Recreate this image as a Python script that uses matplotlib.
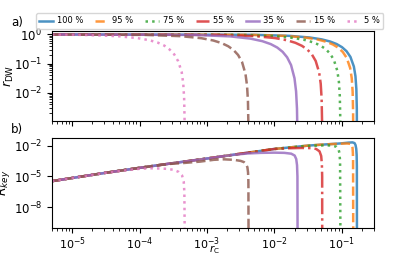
import numpy as np
import matplotlib
matplotlib.use('Agg')
import matplotlib.pyplot as plt

## ---- legend labels (detection efficiency) ----
labels = ['100 %', '95 %', '75 %', '55 %', '35 %', '15 %', '5 %']

## ---- panel a): r_DW against r_C, one pair of lists per curve ----
rc_a_100 = [5e-6, 5.04e-3, 0.0168, 0.0336, 0.0504, 0.0672, 0.084, 0.1008, 0.1176, 0.1344, 0.1512, 0.1596, 0.1646, 0.1672, 0.1678]
rdw_100 = [1.0, 0.967, 0.891, 0.782, 0.675, 0.570, 0.467, 0.365, 0.266, 0.170, 0.0794, 0.0372, 0.0135, 0.0029, 0.0005]

rc_a_95 = [5e-6, 4.44e-3, 0.0148, 0.0296, 0.0444, 0.0592, 0.074, 0.0888, 0.1036, 0.1184, 0.1332, 0.1406, 0.1450, 0.1473, 0.1479]
rdw_95 = [1.0, 0.966, 0.886, 0.774, 0.664, 0.556, 0.451, 0.349, 0.250, 0.157, 0.0708, 0.0319, 0.0111, 0.00226, 0.00035]

rc_a_75 = [5e-6, 2.87e-3, 9.55e-3, 0.0191, 0.0287, 0.0382, 0.0478, 0.0573, 0.0669, 0.0764, 0.0860, 0.0907, 0.0936, 0.0950, 0.0954]
rdw_75 = [1.0, 0.963, 0.877, 0.757, 0.640, 0.528, 0.420, 0.318, 0.222, 0.134, 0.0562, 0.0236, 0.00752, 0.00133, 0.000178]

rc_a_55 = [5e-6, 1.54e-3, 5.13e-3, 0.01026, 0.01539, 0.02052, 0.02565, 0.03078, 0.03591, 0.04104, 0.04617, 0.04874, 0.05027, 0.05104, 0.05125]
rdw_55 = [1.0, 0.961, 0.872, 0.748, 0.629, 0.515, 0.406, 0.304, 0.209, 0.123, 0.0501, 0.0204, 0.0062, 0.00102, 0.000126]

rc_a_35 = [5e-6, 6.63e-4, 2.21e-3, 4.42e-3, 6.63e-3, 8.84e-3, 0.01105, 0.01326, 0.01547, 0.01768, 0.01989, 0.0210, 0.02166, 0.02199, 0.02208]
rdw_35 = [1.0, 0.955, 0.854, 0.716, 0.586, 0.465, 0.354, 0.253, 0.164, 0.0894, 0.0316, 0.0112, 0.00283, 0.00035, 0.00003]

rc_a_15 = [5e-6, 1.24e-4, 4.14e-4, 8.28e-4, 1.242e-3, 1.656e-3, 2.07e-3, 2.484e-3, 2.898e-3, 3.312e-3, 3.726e-3, 3.933e-3, 4.057e-3, 4.119e-3, 4.136e-3]
rdw_15 = [0.995, 0.960, 0.867, 0.740, 0.618, 0.502, 0.392, 0.290, 0.197, 0.114, 0.0447, 0.0175, 0.0051, 0.00078, 0.0001]

rc_a_5 = [5e-6, 1.40e-5, 4.68e-5, 9.36e-5, 1.404e-4, 1.872e-4, 2.34e-4, 2.808e-4, 3.276e-4, 3.744e-4, 4.212e-4, 4.446e-4, 4.586e-4, 4.657e-4, 4.675e-4]
rdw_5 = [0.988, 0.962, 0.870, 0.745, 0.630, 0.520, 0.410, 0.300, 0.205, 0.120, 0.052, 0.021, 0.0065, 0.0011, 0.00013]

## ---- panel b): R_key, shared low r_C branch + tail of each curve ----
rc_env = [5e-6, 1e-5, 3.16e-5, 1e-4, 3.16e-4, 1e-3, 3.16e-3, 1e-2, 3.16e-2, 0.1, 0.126]
rkey_env = [3.5e-6, 7.1e-6, 2.3e-5, 6.9e-5, 2.0e-4, 5.6e-4, 1.66e-3, 4.8e-3, 0.0102, 0.017, 0.020]

rc_b_100 = [0.1445, 0.155, 0.1603, 0.164, 0.1663, 0.1675, 0.168]
rkey_100 = [0.021, 0.0178, 0.0112, 5e-3, 1.26e-3, 1e-4, 1e-11]

rc_b_95 = [0.05, 0.1, 0.12, 0.135, 0.141, 0.1445, 0.1462, 0.1472, 0.148]
rkey_95 = [0.0128, 0.016, 0.0164, 0.015, 0.0112, 6.3e-3, 2e-3, 3.2e-4, 1e-11]

rc_b_75 = [0.0251, 0.0355, 0.0562, 0.0708, 0.0832, 0.0891, 0.0923, 0.0944, 0.0955]
rkey_75 = [8.5e-3, 0.0100, 0.0107, 0.0105, 7.9e-3, 5e-3, 2e-3, 3.2e-4, 1e-11]

rc_b_55 = [0.0158, 0.0251, 0.0355, 0.0417, 0.0468, 0.0495, 0.0507, 0.0512, 0.0513]
rkey_55 = [5.6e-3, 6.0e-3, 5.8e-3, 4.8e-3, 2.8e-3, 1e-3, 1.6e-4, 1e-5, 1e-11]

rc_b_35 = [2.5e-3, 4e-3, 6.3e-3, 0.01, 0.0141, 0.0178, 0.02, 0.0211, 0.0217, 0.022, 0.0221]
rkey_35 = [1.3e-3, 1.74e-3, 2.0e-3, 2.1e-3, 2.0e-3, 1.66e-3, 1.1e-3, 5e-4, 1.26e-4, 1e-5, 1e-11]

rc_b_15 = [2.5e-4, 4.1e-4, 7.9e-4, 1.26e-3, 1.78e-3, 2.5e-3, 3.16e-3, 3.55e-3, 3.8e-3, 3.98e-3, 4.07e-3, 4.12e-3, 4.14e-3]
rkey_15 = [1.6e-4, 1.95e-4, 2.8e-4, 4.2e-4, 4.7e-4, 4.2e-4, 3.3e-4, 2.5e-4, 1.6e-4, 8e-5, 2.5e-5, 3e-6, 1e-11]

rc_b_5 = [6.3e-5, 1e-4, 1.58e-4, 2.5e-4, 3.16e-4, 3.8e-4, 4.27e-4, 4.52e-4, 4.62e-4, 4.68e-4]
rkey_5 = [4e-5, 5.6e-5, 6.3e-5, 5.6e-5, 4.5e-5, 2.8e-5, 1.26e-5, 3.2e-6, 3.2e-7, 1e-11]

curves_a = [(rc_a_100, rdw_100), (rc_a_95, rdw_95), (rc_a_75, rdw_75), (rc_a_55, rdw_55),
            (rc_a_35, rdw_35), (rc_a_15, rdw_15), (rc_a_5, rdw_5)]
curves_b = [(rc_b_100, rkey_100), (rc_b_95, rkey_95), (rc_b_75, rkey_75), (rc_b_55, rkey_55),
            (rc_b_35, rkey_35), (rc_b_15, rkey_15), (rc_b_5, rkey_5)]

colors = ['tab:blue', 'tab:orange', 'tab:green', 'tab:red', 'tab:purple', 'tab:brown', 'tab:pink']
styles = ['-', '--', ':', '-.', '-', '--', ':']

fig = plt.figure(figsize=(4.15, 2.57), dpi=100)
ax1 = fig.add_axes([0.125, 0.530, 0.776, 0.351])
ax2 = fig.add_axes([0.125, 0.112, 0.776, 0.350], sharex=ax1)

for k in range(len(labels)):
    ## ---- panel a ----
    ax1.plot(curves_a[k][0], curves_a[k][1], color=colors[k], linestyle=styles[k],
             linewidth=1.8, alpha=0.8, label=labels[k])
    ## ---- panel b: low r_C branch joined to the curve's own tail ----
    tail_x, tail_y = curves_b[k]
    env_x = [x for x in rc_env if x < tail_x[0]]
    env_y = [y for x, y in zip(rc_env, rkey_env) if x < tail_x[0]]
    ax2.plot(env_x + tail_x, env_y + tail_y, color=colors[k], linestyle=styles[k],
             linewidth=1.8, alpha=0.8)

ax1.set_xscale('log')
ax1.set_yscale('log')
ax2.set_yscale('log')
ax1.set_xlim(5e-6, 0.3)
ax1.set_ylim(1.1e-3, 1.35)
ax2.set_ylim(9e-11, 0.053)
ax2.set_yticks([1e-8, 1e-5, 1e-2])

ax1.tick_params(labelbottom=False, labelsize=8.5)
ax2.tick_params(axis='y', labelsize=8.5)
ax2.tick_params(axis='x', labelsize=8, pad=1.5)
ax1.set_ylabel('$r_\\mathrm{DW}$', fontsize=9)
ax2.set_ylabel('$R_{key}$', fontsize=9)
ax1.yaxis.set_label_coords(-0.11, 0.5)
ax2.yaxis.set_label_coords(-0.125, 0.5)

## x label placed as figure text so that its lower edge stays inside the picture
fig.text(0.517, 0.002, '$r_\\mathrm{C}$', fontsize=7.5, ha='center', va='bottom')

ax1.legend(loc='lower center', bbox_to_anchor=(0.49, 1.02), ncol=7, fontsize=6,
           frameon=True, borderaxespad=0.0, handlelength=1.6, handletextpad=0.5,
           columnspacing=1.4)

fig.text(0.027, 0.914, 'a)', fontsize=8.5, va='center')
fig.text(0.027, 0.498, 'b)', fontsize=8.5, va='center')

plt.savefig('out.png', dpi=100)
